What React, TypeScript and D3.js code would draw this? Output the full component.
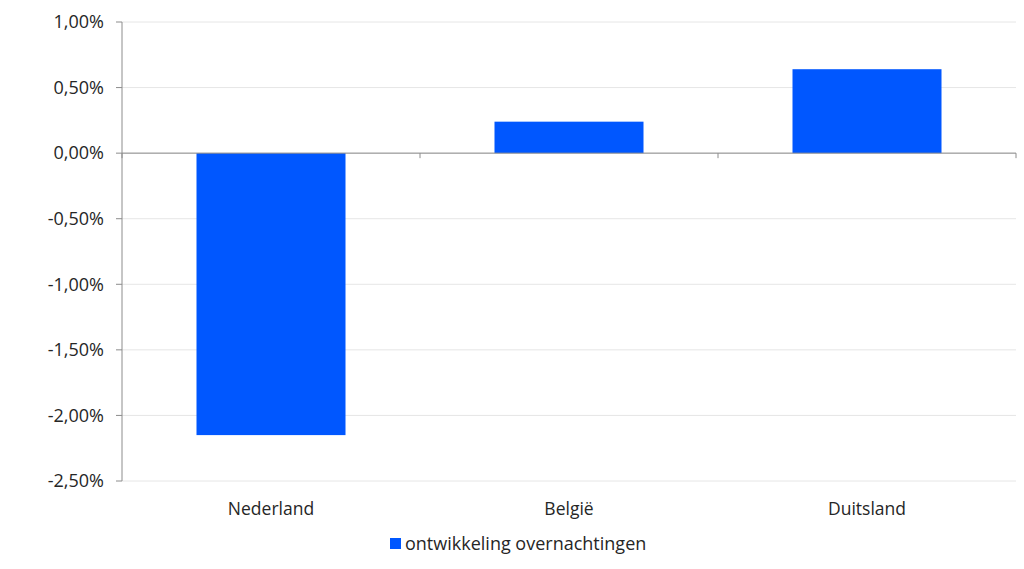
import React from 'react';
import * as d3 from 'd3';

const categories = ['Nederland', 'België', 'Duitsland'];
const values = [-2.15, 0.24, 0.64];
const yTicks = [1.0, 0.5, 0.0, -0.5, -1.0, -1.5, -2.0, -2.5];
const seriesName = 'ontwikkeling overnachtingen';

const width = 1024;
const height = 569;
const left = 122;
const right = 1016;
const top = 22;
const bottom = 481;
const barColor = '#0057ff';
const font = "'Open Sans', 'Noto Sans', sans-serif";

const fmt = (v: number) => v.toFixed(2).replace('.', ',') + '%';

export default function App() {
  const x = d3.scaleBand<string>().domain(categories).range([left, right]).paddingInner(0.5).paddingOuter(0.25);
  const y = d3.scaleLinear().domain([-2.5, 1.0]).range([bottom, top]);
  const boundaries = d3.range(categories.length + 1).map(i => left + i * ((right - left) / categories.length));

  return (
    <svg width={width} height={height} style={{ position: 'absolute', left: 0, top: 0, background: '#fff' }}>
      {/* gridlines */}
      {yTicks.map(t => (
        <line key={'g' + t} x1={left} x2={right} y1={y(t)} y2={y(t)} stroke="#e6e6e6" strokeWidth={1} />
      ))}
      {/* bars */}
      {values.map((v, i) => (
        <rect
          key={categories[i]}
          x={x(categories[i])}
          width={x.bandwidth()}
          y={y(Math.max(0, v))}
          height={Math.abs(y(v) - y(0))}
          fill={barColor}
        />
      ))}
      {/* y axis */}
      <line x1={left} x2={left} y1={top} y2={bottom} stroke="#8c8c8c" strokeWidth={1} />
      {yTicks.map(t => (
        <g key={'t' + t}>
          <line x1={left - 6} x2={left} y1={y(t)} y2={y(t)} stroke="#8c8c8c" />
          <text x={104} y={y(t)} dy="0.35em" textAnchor="end" fontFamily={font} fontSize={18} fill="#262626">
            {fmt(t)}
          </text>
        </g>
      ))}
      {/* x axis at zero */}
      <line x1={left} x2={right} y1={y(0)} y2={y(0)} stroke="#8c8c8c" strokeWidth={1} />
      {boundaries.map((b, i) => (
        <line key={'xb' + i} x1={b} x2={b} y1={y(0)} y2={y(0) + 5} stroke="#8c8c8c" />
      ))}
      {categories.map(c => (
        <text key={'l' + c} x={(x(c) ?? 0) + x.bandwidth() / 2} y={509} dy="0.35em" textAnchor="middle" fontFamily={font} fontSize={17.5} fill="#262626">
          {c}
        </text>
      ))}
      {/* legend */}
      <rect x={390} y={538} width={11} height={11} fill={barColor} />
      <text x={405} y={544} dy="0.35em" fontFamily={font} fontSize={18} fill="#262626">
        {seriesName}
      </text>
    </svg>
  );
}
